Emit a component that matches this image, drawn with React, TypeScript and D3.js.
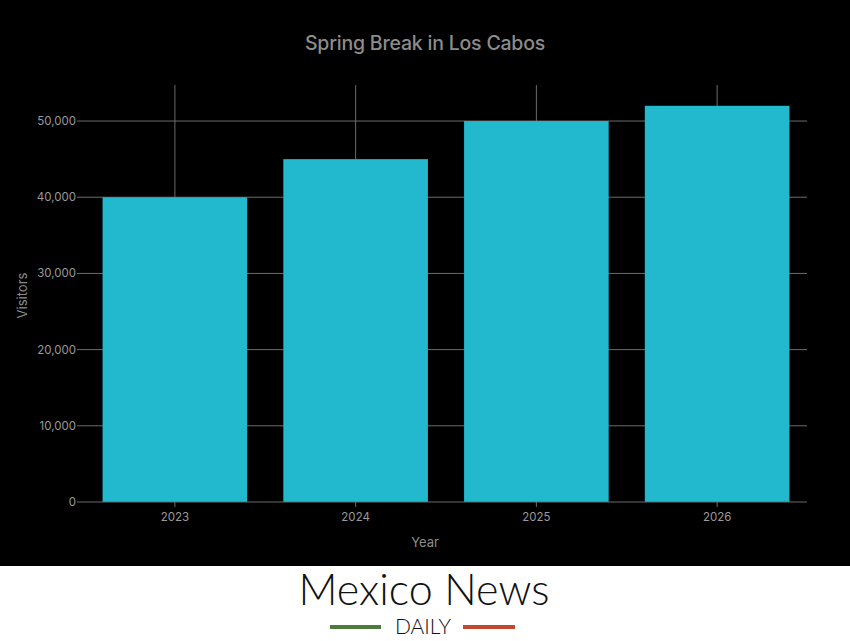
import React from "react";
import * as d3 from "d3";

const years = ["2023", "2024", "2025", "2026"];
const visitors = [40000, 45000, 50000, 52000];
const yTicks = [0, 10000, 20000, 30000, 40000, 50000];
const title = "Spring Break in Los Cabos";
const xTitle = "Year";
const yTitle = "Visitors";

const W = 850;
const H = 641;
const FONT = "Inter, 'Liberation Sans', Arial, sans-serif";
const LOGO = "Lato, 'Open Sans', 'Liberation Sans', sans-serif";

export default function App() {
  const left = 81, right = 807, top = 85, bottom = 502;
  const x = d3.scaleBand<string>().domain(years).range([84.5, 807.5]).paddingInner(0.2).paddingOuter(0.1);
  const y = d3.scaleLinear().domain([0, 54730]).range([bottom, top]);
  const fmt = d3.format(",");
  const bw = x.bandwidth();

  return (
    <div style={{ position: "fixed", left: 0, top: 0 }}>
      <svg width={W} height={H} style={{ display: "block" }}>
        <rect x={0} y={0} width={W} height={566} fill="#000" />
        <rect x={0} y={566} width={W} height={H - 566} fill="#fff" />
        <text x={425} y={50} textAnchor="middle" fill="#8c8c8c" fontSize={19.5} fontFamily={FONT} style={{ fontWeight: 500, letterSpacing: "-0.2px" }}>{title}</text>
        {/* horizontal grid */}
        {yTicks.slice(1).map((t) => (
          <line key={t} x1={left} x2={right} y1={y(t)} y2={y(t)} stroke="#6b6b6b" strokeWidth={1} />
        ))}
        {/* vertical grid */}
        {years.map((c) => {
          const cx = (x(c) as number) + bw / 2;
          return <line key={c} x1={cx} x2={cx} y1={top} y2={bottom} stroke="#6b6b6b" strokeWidth={1} />;
        })}
        {/* bars */}
        {years.map((c, i) => (
          <rect key={c} x={x(c)} y={y(visitors[i])} width={bw} height={bottom - y(visitors[i])} fill="#22b8ce" />
        ))}
        {/* x axis */}
        <line x1={left} x2={right} y1={bottom} y2={bottom} stroke="#6b6b6b" strokeWidth={1} />
        {years.map((c) => {
          const cx = (x(c) as number) + bw / 2;
          return (
            <g key={c}>
              <line x1={cx} x2={cx} y1={bottom} y2={bottom + 5} stroke="#6b6b6b" />
              <text x={cx} y={521} textAnchor="middle" fill="#9a9a9a" fontSize={11.5} fontFamily={FONT}>{c}</text>
            </g>
          );
        })}
        {/* y axis labels */}
        {yTicks.map((t) => (
          <g key={t}>
            <line x1={left - 4} x2={left} y1={y(t)} y2={y(t)} stroke="#6b6b6b" />
            <text x={76} y={y(t) + 4} textAnchor="end" fill="#9a9a9a" fontSize={11.5} fontFamily={FONT}>{fmt(t)}</text>
          </g>
        ))}
        <text x={425} y={547} textAnchor="middle" fill="#8c8c8c" fontSize={13} fontFamily={FONT}>{xTitle}</text>
        <text transform={`translate(27,${(top + bottom) / 2 + 2}) rotate(-90)`} textAnchor="middle" fill="#8c8c8c" fontSize={13} fontFamily={FONT}>{yTitle}</text>
        {/* logo */}
        <text x={424} y={605} textAnchor="middle" fill="#111" fontSize={43} fontFamily={LOGO} style={{ fontWeight: 300 }}>Mexico News</text>
        <text x={423} y={634} textAnchor="middle" fill="#111" fontSize={21} fontFamily={LOGO} style={{ fontWeight: 300 }}>DAILY</text>
        <line x1={330} x2={381} y1={627} y2={627} stroke="#4e7a3e" strokeWidth={4} />
        <line x1={463} x2={515} y1={627} y2={627} stroke="#c4482e" strokeWidth={4} />
      </svg>
    </div>
  );
}
